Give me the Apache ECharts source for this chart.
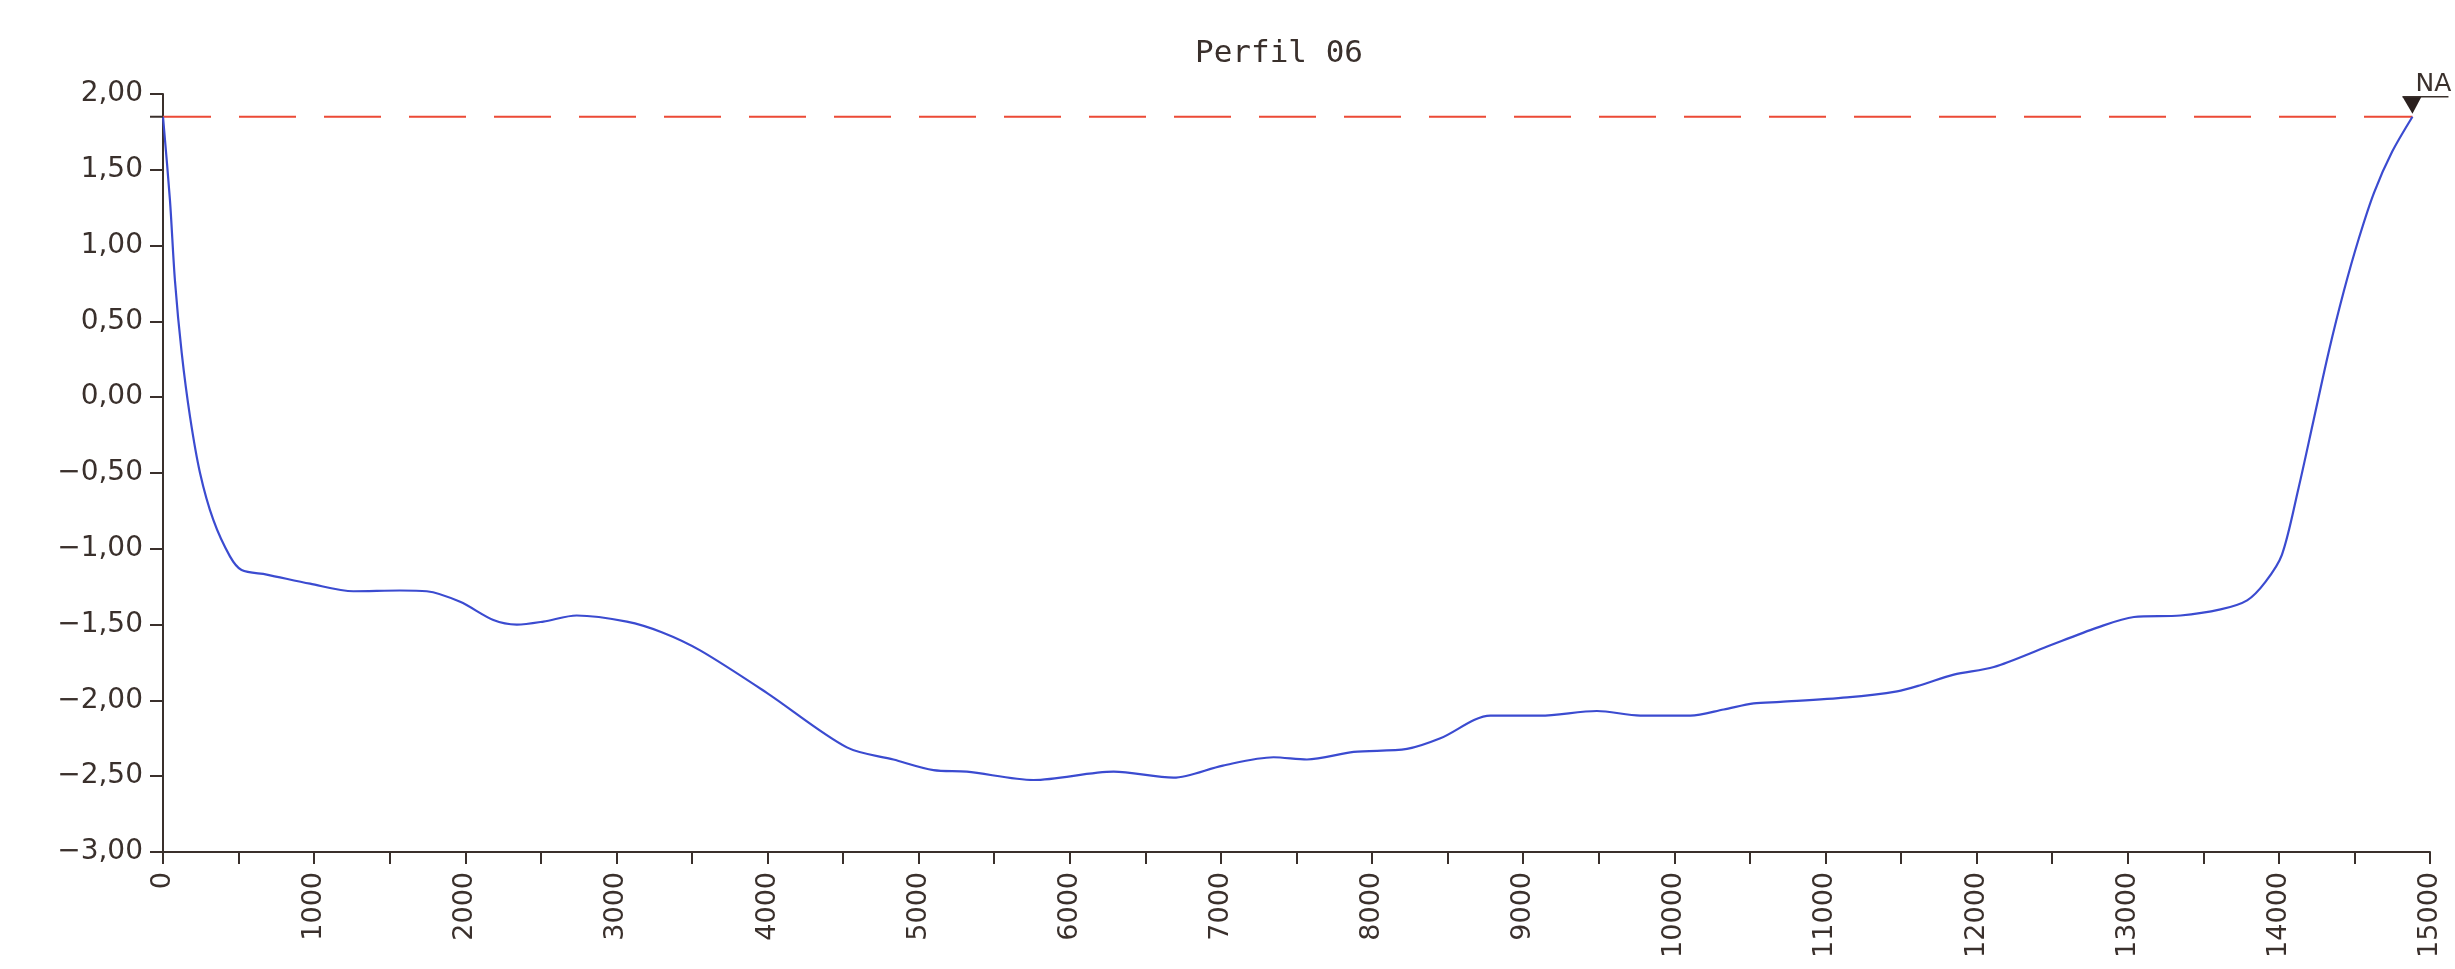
<!DOCTYPE html>
<html>
<head>
<meta charset="utf-8">
<title>Perfil 06</title>
<script src="https://cdn.jsdelivr.net/npm/echarts@6/dist/echarts.min.js"></script>
<style>
  html, body { margin: 0; padding: 0; background: #fff; }
  #chart { width: 2455px; height: 969px; }
</style>
</head>
<body>
<div id="chart"></div>
<script>
// distancia ao longo do perfil (m)
const stations = [
  0, 46, 79, 124, 179, 245, 333, 443, 520, 686, 973, 1260, 1568, 1745, 1966,
  2186, 2341, 2517, 2737, 3069, 3300, 3554, 3995, 4525, 4833, 5098, 5319, 5760,
  6290, 6686, 7013, 7348, 7569, 7878, 8231, 8452, 8783, 9113, 9488, 9775, 10106,
  10327, 10525, 10702, 11143, 11474, 11628, 11849, 12114, 12467, 12798, 13041,
  13349, 13614, 13790, 13910, 14020, 14130, 14230, 14330, 14430, 14530, 14630,
  14750, 14884
];
// cota do fundo (m)
const depths = [
  1.85, 1.30, 0.77, 0.29, -0.13, -0.50, -0.81, -1.05, -1.14, -1.17, -1.23, -1.28, -1.275, -1.28, -1.35,
  -1.47, -1.50, -1.48, -1.44, -1.48, -1.55, -1.67, -1.95, -2.31, -2.39, -2.46, -2.47, -2.525,
  -2.47, -2.51, -2.43, -2.375, -2.39, -2.34, -2.32, -2.25, -2.10, -2.10, -2.07, -2.10, -2.10,
  -2.06, -2.02, -2.01, -1.98, -1.94, -1.90, -1.83, -1.78, -1.645, -1.52, -1.45,
  -1.44, -1.40, -1.34, -1.22, -1.04, -0.60, -0.15, 0.30, 0.70, 1.05, 1.35,
  1.62, 1.85
];
// nivel d'agua
const naLevel = 1.85;
const naStart = 0;
const naEnd = 14884;
const naLabel = 'NA';

const ink = '#3a302c';
const fmtY = v => v.toFixed(2).replace('.', ',').replace('-', '\u2212');

const chart = echarts.init(document.getElementById('chart'));
chart.setOption({
  backgroundColor: '#ffffff',
  animation: false,
  title: {
    text: 'Perfil 06',
    left: 1195,
    top: 38,
    padding: 0,
    textStyle: { fontFamily: 'DejaVu Sans Mono', fontSize: 31, fontWeight: 'normal', color: ink }
  },
  grid: { left: 163, right: 25, top: 94, bottom: 117, outerBoundsMode: 'none' },
  xAxis: {
    type: 'value',
    min: 0,
    max: 15000,
    interval: 500,
    axisLine: { onZero: false, lineStyle: { color: ink, width: 2 } },
    axisTick: { length: 12, lineStyle: { color: ink, width: 2 } },
    splitLine: { show: false },
    axisLabel: {
      rotate: 90,
      margin: 20,
      color: ink,
      fontFamily: 'DejaVu Sans',
      fontSize: 27,
      formatter: v => (v % 1000 === 0 ? String(v) : '')
    }
  },
  yAxis: {
    type: 'value',
    min: -3,
    max: 2,
    interval: 0.5,
    axisLine: { show: true, lineStyle: { color: ink, width: 2 } },
    axisTick: { show: true, length: 13, lineStyle: { color: ink, width: 2 } },
    splitLine: { show: false },
    axisLabel: {
      margin: 20,
      color: ink,
      fontFamily: 'DejaVu Sans',
      fontSize: 28,
      formatter: fmtY
    }
  },
  series: [
    {
      name: 'NA',
      type: 'line',
      data: [[naStart, naLevel], [naEnd, naLevel]],
      showSymbol: false,
      lineStyle: { color: '#ec4a36', width: 2, type: [57, 28], dashOffset: 9 },
      z: 2
    },
    {
      name: 'Fundo',
      type: 'line',
      data: stations.map((s, i) => [s, depths[i]]),
      showSymbol: false,
      smooth: 0.3,
      lineStyle: { color: '#3b4bd0', width: 2.2 },
      z: 3
    },
    {
      // simbolo do NA + tracinho no eixo
      type: 'custom',
      data: [[naEnd, naLevel]],
      clip: false,
      z: 4,
      renderItem: (params, api) => {
        const p = api.coord([api.value(0), api.value(1)]);
        const ax = api.coord([0, api.value(1)])[0];
        return {
          type: 'group',
          children: [
            { type: 'polygon', shape: { points: [[p[0] - 10, p[1] - 20], [p[0] + 9, p[1] - 20], [p[0], p[1] - 3]] }, style: { fill: '#2a201e' } },
            { type: 'line', shape: { x1: p[0] - 10, y1: p[1] - 20, x2: p[0] + 36, y2: p[1] - 20 }, style: { stroke: ink, lineWidth: 1.5 } },
            { type: 'text', style: { text: naLabel, x: p[0] + 3, y: p[1] - 20, verticalAlign: 'bottom', fontFamily: 'DejaVu Sans', fontSize: 25, fill: ink } },
            { type: 'line', shape: { x1: ax - 13, y1: p[1], x2: ax, y2: p[1] }, style: { stroke: ink, lineWidth: 2 } }
          ]
        };
      }
    }
  ]
});
</script>
</body>
</html>
